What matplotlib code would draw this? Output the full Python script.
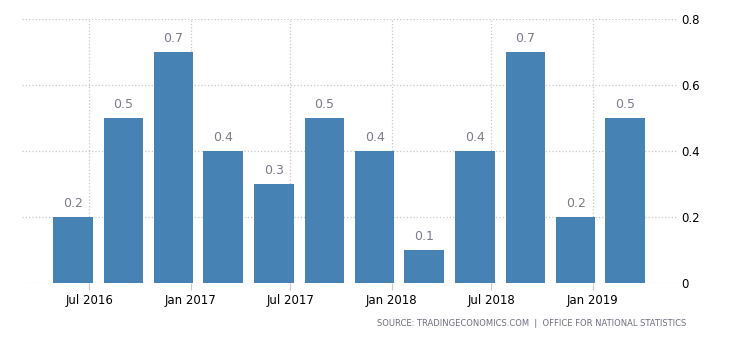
import matplotlib
matplotlib.use('Agg')
import matplotlib.pyplot as plt
import matplotlib.dates as mdates
import pandas as pd

# Quarterly values (bars placed at the start of each quarter's last month)
quarters = pd.date_range('2016-06-01', '2019-03-01', freq='3MS')
values = [0.2, 0.5, 0.7, 0.4, 0.3, 0.5, 0.4, 0.1, 0.4, 0.7, 0.2, 0.5]
tick_dates = pd.date_range('2016-07-01', '2019-01-01', freq='6MS')
tick_labels = ['Jul 2016', 'Jan 2017', 'Jul 2017', 'Jan 2018', 'Jul 2018', 'Jan 2019']
y_ticks = [0, 0.2, 0.4, 0.6, 0.8]
y_labels = ['0', '0.2', '0.4', '0.6', '0.8']

BAR = '#4682b4'
LABEL_GRAY = '#7b7b8c'
GRID = '#c8c8c8'

plt.rcParams['font.family'] = ['DejaVu Sans']

fig = plt.figure(figsize=(7.3, 3.4), dpi=100)
ax = fig.add_axes([22 / 730, 1 - 283 / 340, (677 - 22) / 730, (283 - 19) / 340])

ax.bar(quarters, values, width=72, color=BAR, zorder=2)

for d, v in zip(quarters, values):
    ax.annotate(f'{v:.1f}', (mdates.date2num(d), v), xytext=(0, 5),
                textcoords='offset points', ha='center', va='bottom',
                fontsize=9, color=LABEL_GRAY)

ax.set_xlim(pd.Timestamp('2016-03-01'), pd.Timestamp('2019-06-03'))
ax.set_ylim(0, 0.8)

ax.set_xticks(tick_dates)
ax.set_xticklabels(tick_labels, fontsize=8.5)
ax.set_yticks(y_ticks)
ax.set_yticklabels(y_labels, fontsize=8.5)

ax.yaxis.tick_right()
ax.tick_params(axis='y', length=0, pad=3)
ax.tick_params(axis='x', length=5, color=GRID, pad=3)

ax.grid(True, linestyle=':', color=GRID, linewidth=0.9, zorder=0)
ax.set_axisbelow(True)
for s in ax.spines.values():
    s.set_visible(False)

fig.text(686 / 730, 1 - 324 / 340,
         'SOURCE: TRADINGECONOMICS.COM  |  OFFICE FOR NATIONAL STATISTICS',
         ha='right', va='center', fontsize=6, color='#6f6f7f')

fig.savefig('out.png', dpi=100)
